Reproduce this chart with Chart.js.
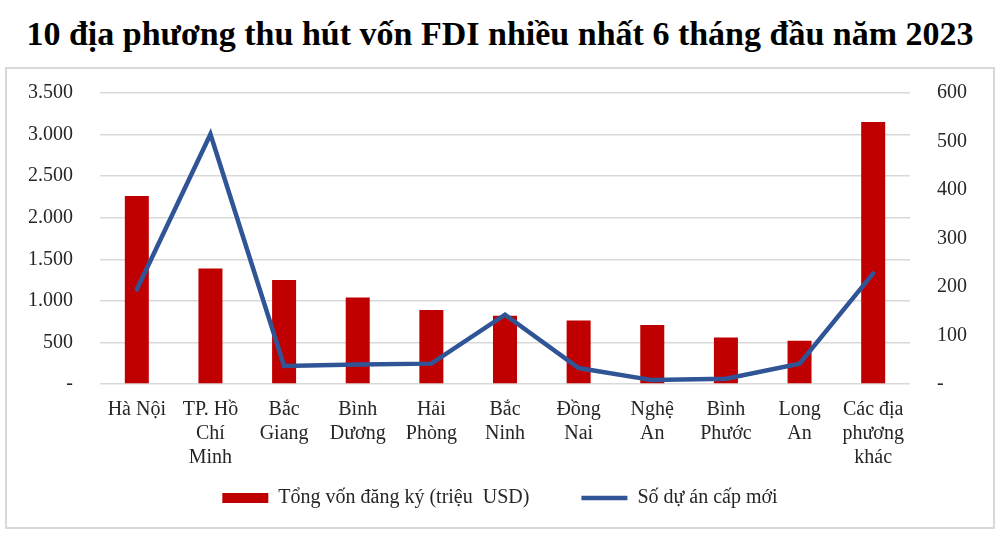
<!DOCTYPE html>
<html lang="vi">
<head>
    <meta charset="UTF-8">
    <title>FDI 6 tháng đầu năm 2023</title>
    <script src="https://cdn.jsdelivr.net/npm/chart.js"></script>
    <style>
        html, body { margin: 0; padding: 0; background: #fff; }
        body { width: 1000px; height: 535px; position: relative; overflow: hidden; }
        .title {
            position: absolute; left: 0; top: 14px; width: 1000px;
            text-align: center;
            font-family: "Liberation Serif", "Times New Roman", serif;
            font-weight: bold; font-size: 34px; line-height: 40px; color: #000;
        }
        .frame {
            position: absolute; left: 5px; top: 67px; width: 986px; height: 458px;
            border: 2px solid #d9d9d9;
        }
    </style>
</head>
<body>

<div class="title">10 địa phương thu hút vốn FDI nhiều nhất 6 tháng đầu năm 2023</div>
<div class="frame">
    <canvas id="fdiChart" width="986" height="458"></canvas>
</div>

<script>
    // du lieu doc tu bieu do
    var categories = [
        ['Hà Nội'], ['TP. Hồ', 'Chí', 'Minh'], ['Bắc', 'Giang'], ['Bình', 'Dương'],
        ['Hải', 'Phòng'], ['Bắc', 'Ninh'], ['Đồng', 'Nai'], ['Nghệ', 'An'],
        ['Bình', 'Phước'], ['Long', 'An'], ['Các địa', 'phương', 'khác']
    ];
    var vonDangKy = [2260, 1390, 1250, 1040, 890, 820, 765, 710, 560, 520, 3150];
    var soDuAn = [195, 515, 37, 40, 42, 143, 33, 8, 11, 42, 228];
    var leftTicks = [0, 500, 1000, 1500, 2000, 2500, 3000, 3500];
    var rightTicks = [0, 100, 200, 300, 400, 500, 600];

    var serif = '"Liberation Serif", "Times New Roman", serif';
    var textColor = '#262626';
    var gridColor = '#d9d9d9';

    function fmt(v) {
        if (v === 0) return '-';
        return v.toString().replace(/\B(?=(\d{3})+(?!\d))/g, '.');
    }

    // co dinh be rong truc, bo khoang dem tren/duoi do padding cua nhan
    function fitAxis(w) {
        return function(axis) {
            axis.width = w;
            axis.paddingTop = 0;
            axis.paddingBottom = 0;
        };
    }

    var ctx = document.getElementById('fdiChart').getContext('2d');

    var fdiChart = new Chart(ctx, {
        type: 'bar',
        data: {
            labels: categories,
            datasets: [
                {
                    type: 'line',
                    label: 'Số dự án cấp mới',
                    data: soDuAn,
                    yAxisID: 'y1',
                    borderColor: '#2f5597',
                    backgroundColor: '#2f5597',
                    borderWidth: 4.5,
                    borderCapStyle: 'round',
                    pointRadius: 0,
                    pointStyle: 'line',
                    tension: 0,
                    order: 1
                },
                {
                    label: 'Tổng vốn đăng ký (triệu  USD)',
                    data: vonDangKy,
                    yAxisID: 'y',
                    backgroundColor: '#c00000',
                    borderWidth: 0,
                    pointStyle: 'rect',
                    barPercentage: 0.326,
                    categoryPercentage: 1.0,
                    order: 2
                }
            ]
        },
        options: {
            responsive: false,
            animation: false,
            layout: { padding: { top: 24, left: 0, right: 0, bottom: 9 } },
            plugins: {
                title: { display: false },
                tooltip: { enabled: false },
                legend: {
                    position: 'bottom',
                    reverse: true,
                    labels: {
                        usePointStyle: true,
                        pointStyleWidth: 46,
                        boxHeight: 10,
                        padding: 12,
                        color: textColor,
                        font: { family: serif, size: 20 },
                        generateLabels: function(chart) {
                            var items = Chart.defaults.plugins.legend.labels.generateLabels(chart);
                            // khoang cach giua hai muc chu thich
                            items.forEach(function(it) {
                                if (it.datasetIndex === 1) it.text = it.text + '        ';
                            });
                            return items;
                        }
                    }
                }
            },
            scales: {
                x: {
                    afterFit: function(axis) { axis.height = 92; },
                    grid: { display: false },
                    border: { display: false },
                    ticks: {
                        autoSkip: false,
                        maxRotation: 0,
                        padding: 6,
                        color: textColor,
                        font: { family: serif, size: 20, lineHeight: 1.2 }
                    }
                },
                y: {
                    position: 'left',
                    min: 0,
                    max: 3500,
                    afterBuildTicks: function(axis) {
                        axis.ticks = leftTicks.map(function(v) { return { value: v }; });
                    },
                    afterFit: fitAxis(93),
                    grid: { color: gridColor, lineWidth: 1.5, drawTicks: false },
                    border: { display: false },
                    ticks: {
                        padding: 27,
                        color: textColor,
                        font: { family: serif, size: 20 },
                        callback: function(v) { return fmt(v); }
                    }
                },
                y1: {
                    position: 'right',
                    min: 0,
                    max: 600,
                    afterBuildTicks: function(axis) {
                        axis.ticks = rightTicks.map(function(v) { return { value: v }; });
                    },
                    afterFit: fitAxis(83),
                    grid: { display: false, drawTicks: false },
                    border: { display: false },
                    ticks: {
                        padding: 27,
                        color: textColor,
                        font: { family: serif, size: 20 },
                        callback: function(v) { return fmt(v); }
                    }
                }
            }
        }
    });
</script>

</body>
</html>
